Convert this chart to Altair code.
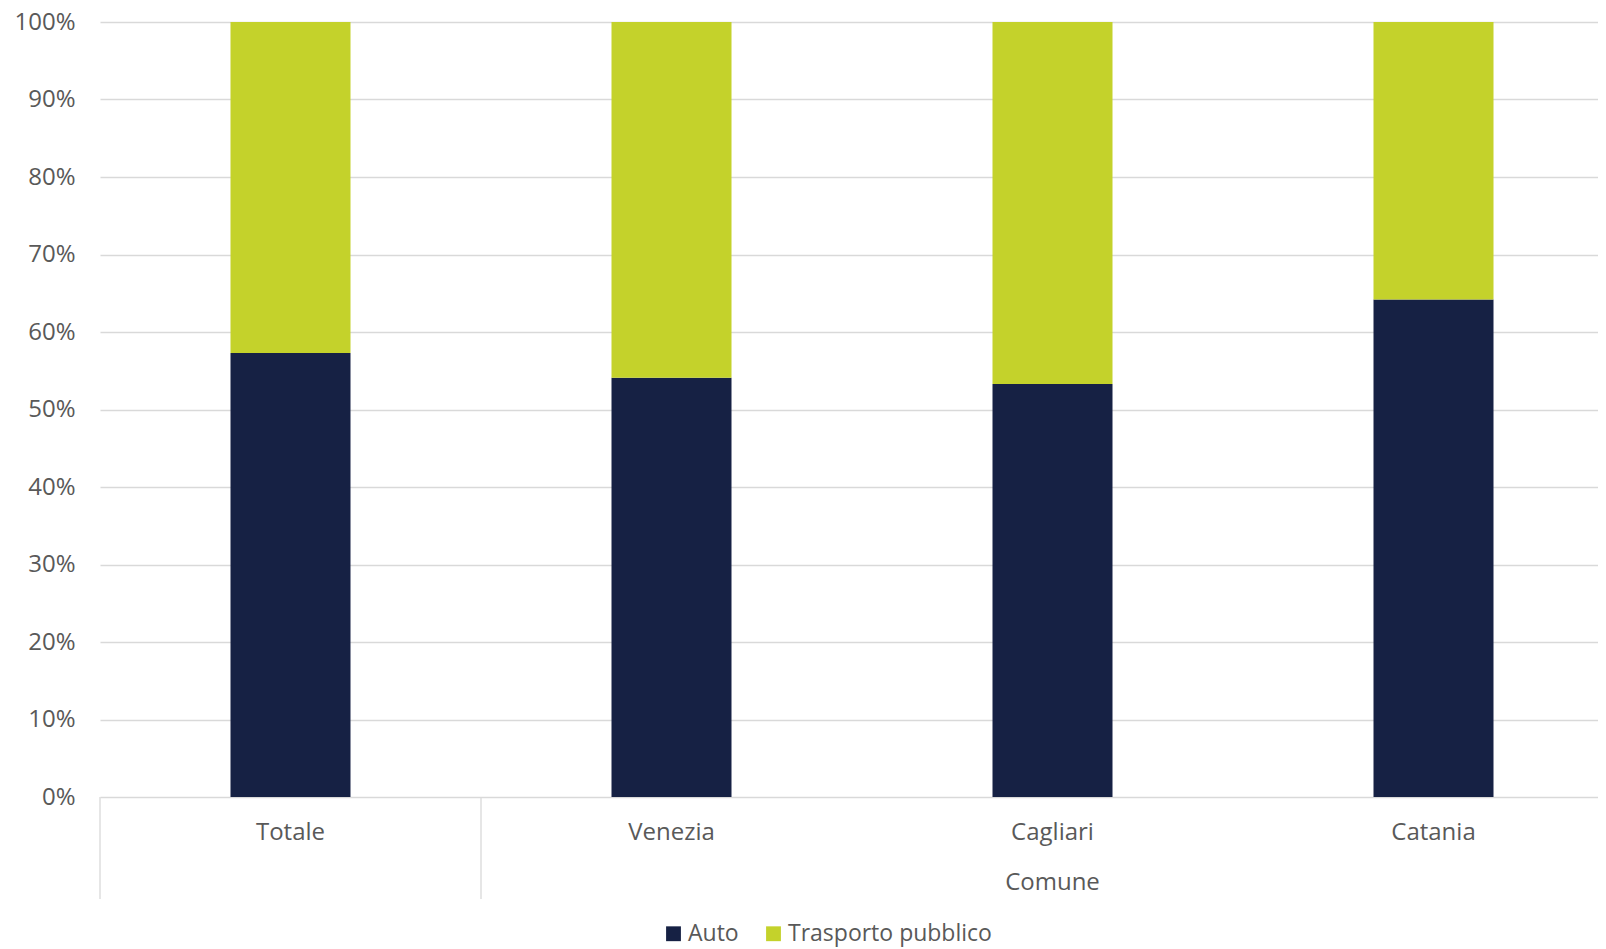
import altair as alt
import pandas as pd

categories = ["Totale", "Venezia", "Cagliari", "Catania"]
auto = [57.3, 54.1, 53.3, 64.2]
trasporto = [42.7, 45.9, 46.7, 35.8]
series = ["Auto", "Trasporto pubblico"]
colors = ["#162144", "#C4D22B"]
group_label = ["Comune"]
group_anchor = ["Cagliari"]
separators = ["Totale", "Venezia"]
y_ticks = [0, 0.1, 0.2, 0.3, 0.4, 0.5, 0.6, 0.7, 0.8, 0.9, 1.0]

rows = []
for c, a, t in zip(categories, auto, trasporto):
    rows.append({"cat": c, "serie": series[0], "val": a / 100})
    rows.append({"cat": c, "serie": series[1], "val": t / 100})
df = pd.DataFrame(rows)
df_sep = pd.DataFrame({"cat": separators})
df_grp = pd.DataFrame({"cat": group_anchor, "label": group_label})

W, H = 1498, 775
BAND_SPAN = 1524  # the category axis runs past the right edge, as in the reference
FONT = "Open Sans"
GREY = "#595959"
GRID = "#d9d9d9"
FS = 24

xscale = alt.Scale(domain=categories, range=[0, BAND_SPAN], paddingInner=0, paddingOuter=0)
xaxis = alt.Axis(title=None, labelAngle=0, domain=False, ticks=False, grid=False,
                 labelPadding=23, labelFontSize=FS, labelColor=GREY, labelFont=FONT)

bars = alt.Chart(df).mark_bar(width=120).encode(
    x=alt.X("cat:N", scale=xscale, sort=categories, axis=xaxis),
    y=alt.Y("val:Q", stack="zero", scale=alt.Scale(domain=[0, 1], nice=False),
            axis=alt.Axis(title=None, format=".0%", values=y_ticks, domain=False, ticks=False,
                          labelPadding=25, labelFontSize=FS, labelColor=GREY, labelFont=FONT,
                          gridColor=GRID, gridWidth=1.3)),
    color=alt.Color("serie:N", scale=alt.Scale(domain=series, range=colors),
                    legend=alt.Legend(title=None, orient="none", legendX=562, legendY=900,
                                      direction="horizontal", symbolType="square", symbolSize=220,
                                      labelFontSize=23, labelColor=GREY, labelFont=FONT,
                                      labelLimit=0, columnPadding=23, labelOffset=3, padding=0,
                                      symbolStrokeWidth=0)),
    order=alt.Order("serie:N", sort="ascending"),
)

seps = alt.Chart(df_sep).mark_rule(color=GRID, strokeWidth=1.3).encode(
    x=alt.X("cat:N", scale=xscale, sort=categories, axis=xaxis, bandPosition=0),
    y=alt.value(H),
    y2=alt.value(H + 102),
)

grp = alt.Chart(df_grp).mark_text(fontSize=FS, color=GREY, font=FONT, baseline="middle").encode(
    x=alt.X("cat:N", scale=xscale, sort=categories, axis=xaxis),
    y=alt.value(H + 86),
    text="label:N",
)

chart = alt.layer(bars, seps, grp).properties(
    width=W, height=H,
    padding={"left": 92, "top": 14, "right": 0, "bottom": 152},
    autosize=alt.AutoSizeParams(type="none"),
).configure_view(stroke=None)

chart.save("out.html", embed_options={"renderer": "svg", "actions": False})
